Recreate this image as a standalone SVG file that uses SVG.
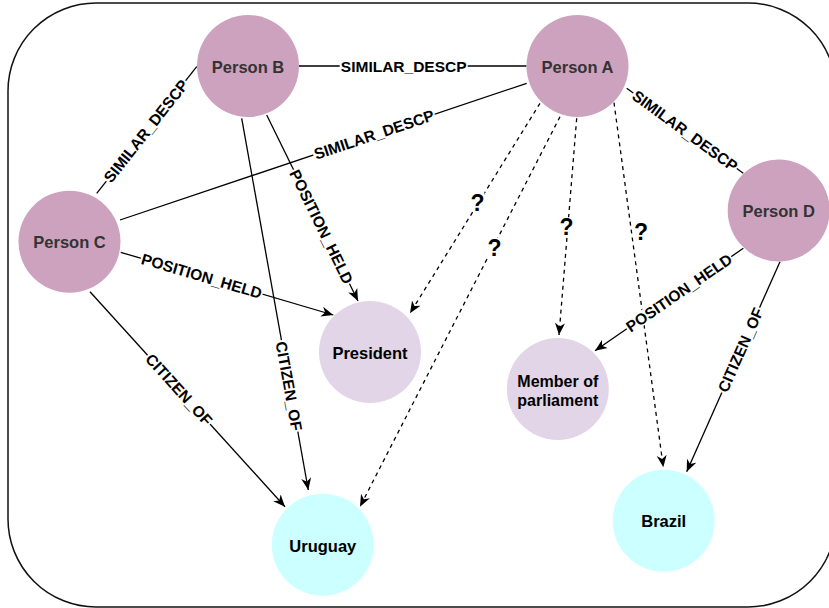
<svg xmlns="http://www.w3.org/2000/svg" width="829" height="608" viewBox="0 0 829 608">
<style>
.frame{fill:none;stroke:#111;stroke-width:1.5}
.e{stroke:#000;stroke-width:1.3;fill:none}
.d{stroke:#000;stroke-width:1.3;fill:none;stroke-dasharray:4 4}
.lb{fill:#fff}
.el{font-family:"Liberation Sans",Arial,sans-serif;font-weight:bold;font-size:15.5px;fill:#000;text-anchor:middle}
.q{font-family:"Liberation Sans",Arial,sans-serif;font-weight:bold;font-size:23px;fill:#000;text-anchor:middle}
.person{fill:#CDA2BE}
.role{fill:#E1D5E7}
.country{fill:#CCFFFF}
.nt{font-family:"Liberation Sans",Arial,sans-serif;font-weight:bold;font-size:16.5px;text-anchor:middle}
.pt{fill:#333333}
.ot{fill:#000}
</style>
<defs>
<marker id="arr" viewBox="0 0 13 11" refX="12" refY="5.5" markerWidth="13" markerHeight="11" markerUnits="userSpaceOnUse" orient="auto">
<path d="M0,0.5 L12,5.5 L0,10.5 L3.5,5.5 Z" fill="#000"/>
</marker>
</defs>
<rect class="frame" x="8" y="3" width="828" height="604" rx="88" ry="88"/>
<g id="connectors">
<line class="e" x1="299" y1="66" x2="526.5" y2="66"/>
<line class="e" x1="196.7" y1="66.7" x2="96.7" y2="193.3"/>
<line class="e" x1="526.7" y1="83.3" x2="120" y2="220"/>
<line class="e" x1="626.7" y1="88.3" x2="743.3" y2="173.3"/>
<line class="e" x1="266.7" y1="115" x2="358" y2="301" marker-end="url(#arr)"/>
<line class="e" x1="241.7" y1="118.3" x2="308.3" y2="490" marker-end="url(#arr)"/>
<line class="e" x1="120.7" y1="252.3" x2="333.3" y2="315" marker-end="url(#arr)"/>
<line class="e" x1="90" y1="291.7" x2="285" y2="506.7" marker-end="url(#arr)"/>
<line class="e" x1="743.3" y1="248.3" x2="595" y2="350.7" marker-end="url(#arr)"/>
<line class="e" x1="780" y1="261.7" x2="686.7" y2="471.7" marker-end="url(#arr)"/>
<line class="d" x1="540" y1="103.3" x2="410" y2="313.3" marker-end="url(#arr)"/>
<line class="d" x1="560" y1="116.7" x2="360" y2="506.7" marker-end="url(#arr)"/>
<line class="d" x1="576.7" y1="118.3" x2="559" y2="335" marker-end="url(#arr)"/>
<line class="d" x1="614" y1="102.7" x2="663.3" y2="467.3" marker-end="url(#arr)"/>
<g transform="translate(403.7,66)"><rect class="lb" x="-64" y="-7" width="128" height="14"/><text class="el" y="5.5">SIMILAR_DESCP</text></g>
<g transform="translate(146,131) rotate(-51.7)"><rect class="lb" x="-64" y="-7" width="128" height="14"/><text class="el" y="5.5">SIMILAR_DESCP</text></g>
<g transform="translate(374,134.6) rotate(-18.6)"><rect class="lb" x="-64" y="-7" width="128" height="14"/><text class="el" y="5.5">SIMILAR_DESCP</text></g>
<g transform="translate(685,130.8) rotate(36.1)"><rect class="lb" x="-64" y="-7" width="128" height="14"/><text class="el" y="5.5">SIMILAR_DESCP</text></g>
<g transform="translate(321.5,226.7) rotate(63.9)"><rect class="lb" x="-63.5" y="-7" width="127" height="14"/><text class="el" y="5.5">POSITION_HELD</text></g>
<g transform="translate(201.7,276) rotate(16.4)"><rect class="lb" x="-63.5" y="-7" width="127" height="14"/><text class="el" y="5.5">POSITION_HELD</text></g>
<g transform="translate(679,292.7) rotate(-34.6)"><rect class="lb" x="-63.5" y="-7" width="127" height="14"/><text class="el" y="5.5">POSITION_HELD</text></g>
<g transform="translate(289,386) rotate(79.8)"><rect class="lb" x="-46.5" y="-7" width="93" height="14"/><text class="el" y="5.5">CITIZEN_OF</text></g>
<g transform="translate(179,389.5) rotate(47.8)"><rect class="lb" x="-46.5" y="-7" width="93" height="14"/><text class="el" y="5.5">CITIZEN_OF</text></g>
<g transform="translate(740.5,350) rotate(-66.05)"><rect class="lb" x="-46.5" y="-7" width="93" height="14"/><text class="el" y="5.5">CITIZEN_OF</text></g>
<rect class="lb" x="470.5" y="192.5" width="14" height="19"/><text class="q" x="477.5" y="210.5">?</text>
<rect class="lb" x="487.5" y="238" width="14" height="19"/><text class="q" x="494.5" y="255.8">?</text>
<rect class="lb" x="559.5" y="217.2" width="14" height="19"/><text class="q" x="566.5" y="235">?</text>
<text class="q" x="641" y="240.3">?</text>
</g>
<g id="personB"><circle class="person" cx="248" cy="66" r="51"/><text class="nt pt" x="248" y="72.5">Person B</text></g>
<g id="personA"><circle class="person" cx="577.5" cy="66" r="51"/><text class="nt pt" x="577.5" y="72.5">Person A</text></g>
<g id="personC"><circle class="person" cx="69.5" cy="241.7" r="51"/><text class="nt pt" x="69.5" y="248">Person C</text></g>
<g id="personD"><circle class="person" cx="778.7" cy="210.5" r="51"/><text class="nt pt" x="778.7" y="217">Person D</text></g>
<g id="president"><circle class="role" cx="370" cy="352" r="51"/><text class="nt ot" x="370" y="358.5">President</text></g>
<g id="member"><circle class="role" cx="557.8" cy="389" r="51"/><text class="nt ot" x="557.8" y="387" style="font-size:16px">Member of</text><text class="nt ot" x="557.8" y="406" style="font-size:16px">parliament</text></g>
<g id="uruguay"><circle class="country" cx="322.8" cy="544.7" r="51"/><text class="nt ot" x="322.8" y="551.5">Uruguay</text></g>
<g id="brazil"><circle class="country" cx="663.7" cy="520.7" r="51"/><text class="nt ot" x="663.7" y="527">Brazil</text></g>
</svg>
